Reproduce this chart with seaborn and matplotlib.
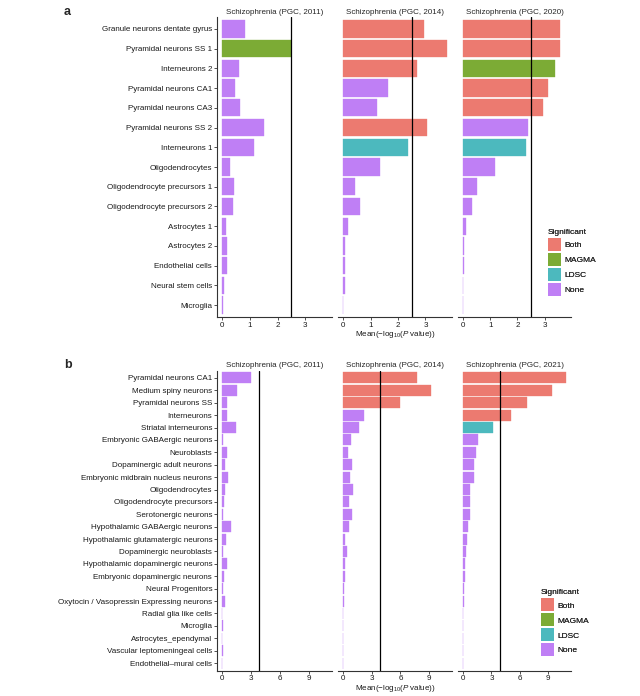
import pandas as pd
import matplotlib
matplotlib.use('Agg')
import matplotlib.pyplot as plt
from matplotlib.patches import Patch
import seaborn as sns

sns.set_style('white')
plt.rcParams['font.family'] = ['Liberation Sans', 'DejaVu Sans']
plt.rcParams['mathtext.fontset'] = 'custom'
plt.rcParams['mathtext.rm'] = 'Liberation Sans'
plt.rcParams['mathtext.it'] = 'Liberation Sans:italic'

# Panel a: cell types (top)
cells_a = ['Granule neurons dentate gyrus', 'Pyramidal neurons SS 1', 'Interneurons 2',
           'Pyramidal neurons CA1', 'Pyramidal neurons CA3', 'Pyramidal neurons SS 2',
           'Interneurons 1', 'Oligodendrocytes', 'Oligodendrocyte precursors 1',
           'Oligodendrocyte precursors 2', 'Astrocytes 1', 'Astrocytes 2',
           'Endothelial cells', 'Neural stem cells', 'Microglia']
titles_a = ['Schizophrenia (PGC, 2011)', 'Schizophrenia (PGC, 2014)', 'Schizophrenia (PGC, 2020)']
vals_a_2011 = [0.82, 2.47, 0.59, 0.45, 0.65, 1.52, 1.16, 0.27, 0.41, 0.40, 0.12, 0.17, 0.19, 0.08, 0.02]
vals_a_2014 = [2.96, 3.78, 2.68, 1.63, 1.25, 3.05, 2.35, 1.36, 0.42, 0.61, 0.16, 0.07, 0.05, 0.05, 0.01]
vals_a_2020 = [3.57, 3.55, 3.38, 3.11, 2.95, 2.37, 2.32, 1.19, 0.50, 0.34, 0.09, 0.05, 0.02, 0.01, 0.01]
sig_a_2011 = ['None', 'MAGMA'] + ['None'] * 13
sig_a_2014 = ['Both', 'Both', 'Both', 'None', 'None', 'Both', 'LDSC'] + ['None'] * 8
sig_a_2020 = ['Both', 'Both', 'MAGMA', 'Both', 'Both', 'None', 'LDSC'] + ['None'] * 8
thresh_a = 2.5

# Panel b: cell types (bottom)
cells_b = ['Pyramidal neurons CA1', 'Medium spiny neurons', 'Pyramidal neurons SS', 'Interneurons',
           'Striatal interneurons', 'Embryonic GABAergic neurons', 'Neuroblasts',
           'Dopaminergic adult neurons', 'Embryonic midbrain nucleus neurons', 'Oligodendrocytes',
           'Oligodendrocyte precursors', 'Serotonergic neurons', 'Hypothalamic GABAergic neurons',
           'Hypothalamic glutamatergic neurons', 'Dopaminergic neuroblasts',
           'Hypothalamic dopaminergic neurons', 'Embryonic dopaminergic neurons',
           'Neural Progenitors', 'Oxytocin / Vasopressin Expressing neurons',
           'Radial glia like cells', 'Microglia', 'Astrocytes_ependymal',
           'Vascular leptomeningeal cells', 'Endothelial\u2013mural cells']
titles_b = ['Schizophrenia (PGC, 2011)', 'Schizophrenia (PGC, 2014)', 'Schizophrenia (PGC, 2021)']
vals_b_2011 = [3.04, 1.57, 0.50, 0.50, 1.43, 0.10, 0.50, 0.25, 0.64, 0.32, 0.14, 0.07,
               0.93, 0.39, 0.10, 0.50, 0.21, 0.07, 0.29, 0.01, 0.07, 0.01, 0.07, 0.01]
vals_b_2014 = [7.70, 9.20, 6.00, 2.23, 1.70, 0.85, 0.49, 0.92, 0.71, 1.06, 0.57, 0.92,
               0.64, 0.14, 0.35, 0.18, 0.14, 0.07, 0.04, 0.02, 0.01, 0.01, 0.01, 0.01]
vals_b_2021 = [10.87, 9.37, 6.76, 5.09, 3.14, 1.57, 1.36, 1.18, 1.11, 0.77, 0.70, 0.70,
               0.56, 0.38, 0.35, 0.21, 0.21, 0.14, 0.05, 0.02, 0.01, 0.01, 0.01, 0.01]
sig_b_2011 = ['None'] * 24
sig_b_2014 = ['Both', 'Both', 'Both'] + ['None'] * 21
sig_b_2021 = ['Both', 'Both', 'Both', 'Both', 'LDSC'] + ['None'] * 19
thresh_b = 3.86

sig_order = ['Both', 'MAGMA', 'LDSC', 'None']
palette = {'Both': '#EC7A70', 'MAGMA': '#7CAB35', 'LDSC': '#4CB9BE', 'None': '#BF7FF5'}
XLABEL = r'Mean($-$log$_{10}$($\it{P}$ value))'
FS = 5.8

W, H = 640, 696
fig = plt.figure(figsize=(W / 100, H / 100), dpi=100)


def px_axes(x0, y0, x1, y1):
    # pixel box (top-left origin) -> figure axes
    return fig.add_axes([x0 / W, 1 - y1 / H, (x1 - x0) / W, (y1 - y0) / H])


def draw_row(cells, vals_list, sig_list, titles, xboxes, ytop, ybot, thresh, xmax, xticks, xlabel_y):
    n = len(cells)
    for i, (vals, sigs, title, (x0, x1)) in enumerate(zip(vals_list, sig_list, titles, xboxes)):
        ax = px_axes(x0, ytop, x1, ybot)
        df = pd.DataFrame({'cell': cells, 'value': vals, 'sig': sigs})
        sns.barplot(data=df, x='value', y='cell', hue='sig', hue_order=sig_order,
                    palette=palette, order=cells, dodge=False, width=0.88,
                    saturation=1, legend=False, ax=ax)
        # thin outline in the bar colour so tiny values stay visible
        for bar in ax.patches:
            bar.set_edgecolor(bar.get_facecolor())
            bar.set_linewidth(0.25)
        ax.axvline(thresh, color='black', linewidth=0.9)
        ax.set_xlim(-0.05 * xmax, 1.05 * xmax)
        ax.set_ylim(n - 1 + 0.6, -0.6)
        ax.set_xticks(xticks)
        ax.set_xticklabels([str(t) for t in xticks])
        ax.set_xlabel('')
        ax.set_ylabel('')
        ax.set_title(title, fontsize=FS, pad=2.5)
        for s in ['top', 'right']:
            ax.spines[s].set_visible(False)
        ax.spines['bottom'].set_color('#333333')
        ax.spines['bottom'].set_linewidth(0.8)
        ax.tick_params(axis='x', length=2, width=0.6, color='#333333', labelsize=FS,
                       pad=1.5, bottom=True, labelcolor='#1a1a1a')
        if i == 0:
            ax.spines['left'].set_color('#333333')
            ax.spines['left'].set_linewidth(0.8)
            ax.tick_params(axis='y', length=2, width=0.6, color='#333333', labelsize=FS,
                           pad=1.5, left=True, labelcolor='#1a1a1a')
        else:
            ax.spines['left'].set_visible(False)
            ax.set_yticks([])
    xm = (xboxes[1][0] + xboxes[1][1]) / 2
    fig.text(xm / W, 1 - xlabel_y / H, XLABEL, ha='center', va='center',
             fontsize=FS, color='#1a1a1a')


boxes = [(217, 332), (338, 452), (458, 571)]
draw_row(cells_a, [vals_a_2011, vals_a_2014, vals_a_2020],
         [sig_a_2011, sig_a_2014, sig_a_2020], titles_a,
         boxes, 17, 317, thresh_a, 3.78, [0, 1, 2, 3], 335)
draw_row(cells_b, [vals_b_2011, vals_b_2014, vals_b_2021],
         [sig_b_2011, sig_b_2014, sig_b_2021], titles_b,
         boxes, 370.5, 670.5, thresh_b, 10.87, [0, 3, 6, 9], 688)

# panel letters
fig.text(64 / W, 1 - 12 / H, 'a', fontsize=9, fontweight='bold', ha='left', va='center')
fig.text(64 / W, 1 - 365 / H, 'b', fontsize=9, fontweight='bold', ha='left', va='center')

# legends
handles = [Patch(facecolor=palette[s], edgecolor='none', label=s) for s in sig_order]
for (lx, ly) in [(548, 229), (541, 589.5)]:
    leg = fig.legend(handles=handles, title='Significant', loc='upper left',
                     bbox_to_anchor=(lx / W, 1 - ly / H), frameon=False, fontsize=6,
                     title_fontsize=6, handlelength=1.55, handleheight=2.05,
                     handletextpad=0.45, labelspacing=0.22, borderaxespad=0, borderpad=0)
    leg._legend_box.align = 'left'
    fig.add_artist(leg)

fig.savefig('out.png', dpi=100)
